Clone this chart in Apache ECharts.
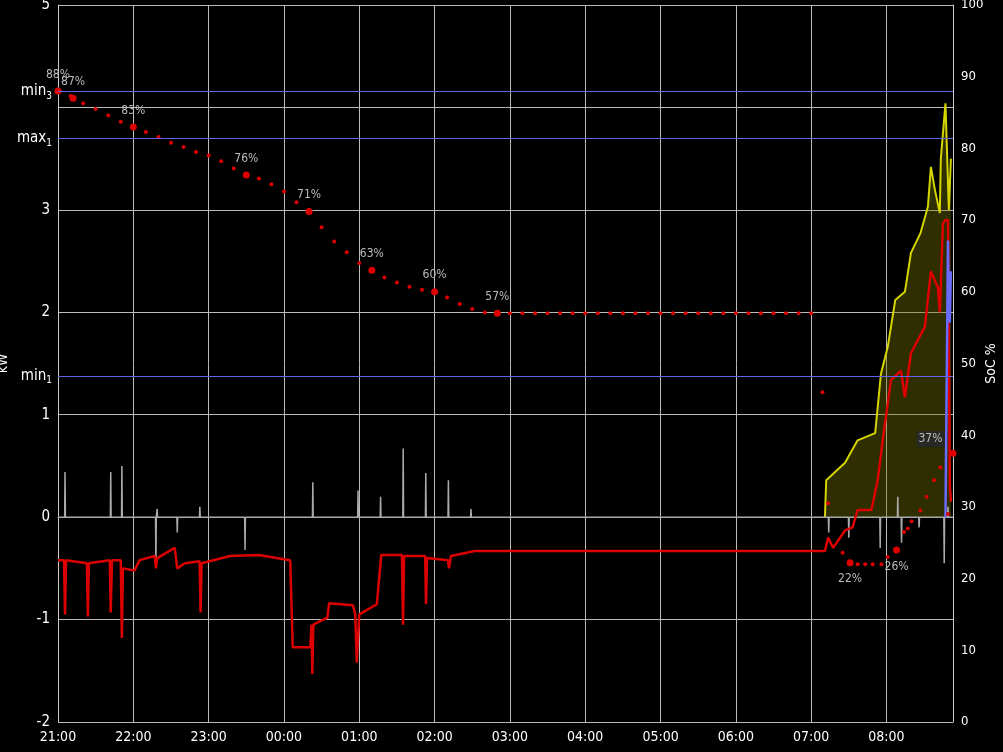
<!DOCTYPE html>
<html>
<head>
<meta charset="UTF-8">
<script src="https://cdn.jsdelivr.net/npm/echarts@6/dist/echarts.min.js"></script>
</head>
<body style="margin:0;background:#000;">
<div id="container" style="width:1003px;height:752px;"></div>
<script>
// x values are minutes after 21:00
var xTicks = ['21:00','22:00','23:00','00:00','01:00','02:00','03:00','04:00','05:00','06:00','07:00','08:00'];

// house/grid power, kW
var gridSpikes = [[5.6,0.44],[42,0.44],[50.9,0.5],[78,-0.49],[79,0.08],[95,-0.15],[113,0.1],[149,-0.32],[203,0.34],[239,0.26],[257,0.2],[275,0.67],[293,0.43],[311,0.36],[329,0.08],
  [614,-0.15],[630,-0.2],[655,-0.3],[669,0.2],[672,-0.25],[686,-0.1],[706,-0.45],[709,0.1]];

var batteryPower = [[0,-0.42],[4.8,-0.42],[5.6,-0.95],[6.4,-0.42],[23,-0.45],[23.8,-0.97],[24.6,-0.45],[41.3,-0.42],[42,-0.93],[43,-0.42],
  [50,-0.42],[50.9,-1.18],[51.7,-0.5],[61,-0.52],[65,-0.42],[77,-0.38],[78,-0.5],[79,-0.4],[93,-0.3],[95,-0.5],[101,-0.45],
  [112.8,-0.43],[113.6,-0.93],[114.4,-0.45],[137,-0.38],[160,-0.37],[185,-0.42],[187,-1.27],[201,-1.27],[202,-1.05],[202.6,-1.53],[203.4,-1.05],
  [214.6,-0.98],[216,-0.84],[235,-0.86],[236.8,-0.95],[238,-1.42],[240,-0.95],[254,-0.85],[257.5,-0.37],[274,-0.37],[274.9,-1.05],[275.7,-0.38],
  [292.5,-0.38],[293.2,-0.85],[294,-0.4],[310.7,-0.42],[311.5,-0.5],[313,-0.38],[332,-0.33],[611,-0.33],[613.5,-0.2],[617.5,-0.3],[627,-0.13],
  [633,-0.1],[637,0.07],[648,0.07],[653,0.36],[657,0.75],[663.6,1.34],[671.5,1.43],[674.7,1.17],[679.5,1.6],[690.6,1.86],[695.4,2.4],
  [701,2.24],[702.5,2.0],[705,2.87],[707,2.9],[709,2.9],[710.5,0.3],[711.3,0.15]];

var solarPower = [[611,0],[612,0.36],[627,0.53],[637,0.75],[651,0.82],[655.6,1.4],[661,1.66],[667,2.12],[674.7,2.2],[679.5,2.58],
  [687,2.77],[693,3.03],[695.4,3.42],[698.5,3.2],[702.5,2.97],[703.3,3.5],[707,4.04],[709.7,3.0],[711.3,3.5]];

var loadPower = [[707,0],[709,2.7],[709.7,2.0],[710.5,1.9],[711.3,2.4]];

// state of charge, %
var socTimes = [0,10,20,30,40,50,60,70,80,90,100,110,120,130,140,150,160,170,180,190,200,210,220,230,240,250,260,270,280,290,300,
  310,320,330,340,350,360,370,380,390,400,410,420,430,440,450,460,470,480,490,500,510,520,530,540,550,560,570,580,590,600,
  609,613.5,625,631,637,643,649,656,661,668,674,677,680,687,692,698,703,709,713];
var socValues = [88,87.3,86.3,85.5,84.6,83.7,83,82.3,81.6,80.8,80.2,79.5,79,78.2,77.2,76.3,75.8,75,74,72.5,71.2,69,67,65.5,64,63,62,61.3,60.7,60.3,60,
  59.2,58.3,57.6,57.1,57,57,57,57,57,57,57,57,57,57,57,57,57,57,57,57,57,57,57,57,57,57,57,57,57,57,
  46,30.5,23.6,22.2,22,22,22,22,23,24,26.5,27,28,29.5,31.4,33.7,35.5,29,37.5];
var socLabels = {0:'88%',12:'87%',60:'83%',105:'80%',150:'76%',200:'71%',250:'63%',300:'60%',350:'57%',631:'22%',668:'26%',713:'37%'};

var limits = [['min','3',4.16],['max','1',3.70],['min','1',1.38]];

var gridData = [[0,0]];
gridSpikes.forEach(function (s) { gridData.push([s[0]-0.3,0],[s[0],s[1]],[s[0]+0.3,0]); });
gridData.push([713,0]);

var socData = socTimes.map(function (t, i) { return [t, socValues[i]]; });
Object.keys(socLabels).forEach(function (k) {
  var t = +k;
  var idx = socTimes.indexOf(t);
  var item = {value: [t, idx >= 0 ? socValues[idx] : (t === 12 ? 87 : 0)], symbolSize: 7,
    label: {show: true, formatter: socLabels[k], position: t >= 600 ? 'bottom' : 'top', color: '#bbb', fontSize: 12,
      backgroundColor: t === 713 ? 'rgba(40,40,40,0.9)' : 'transparent', padding: 2}};
  if (t === 713) { item.label.position = 'left'; item.label.offset = [0, -14]; }
  if (idx >= 0) socData[idx] = item; else if (t === 12) socData.push(item);
});
socData.sort(function (a, b) { return (a.value || a)[0] - (b.value || b)[0]; });

var font = 'DejaVu Sans Condensed, DejaVu Sans, sans-serif';
var chart = echarts.init(document.getElementById('container'));
chart.setOption({
  backgroundColor: '#000',
  animation: false,
  textStyle: {fontFamily: font},
  grid: {left: 58, right: 50, top: 5, bottom: 30, outerBoundsMode: 'none', containLabel: false},
  xAxis: {type: 'value', min: 0, max: 713, interval: 60,
    axisLine: {lineStyle: {color: '#ccc'}}, axisTick: {show: false},
    splitLine: {lineStyle: {color: '#bbb', width: 1}},
    axisLabel: {color: '#fff', fontSize: 14, fontFamily: font, formatter: function (v) { return xTicks[v / 60] || ''; }}},
  yAxis: [
    {type: 'value', min: -2, max: 5, interval: 1, name: 'kW', nameLocation: 'middle', nameGap: 48, nameMoveOverlap: false,
      nameTextStyle: {color: '#fff', fontSize: 14, fontFamily: font},
      axisLine: {show: true, lineStyle: {color: '#ccc'}}, axisTick: {show: false},
      splitLine: {lineStyle: {color: '#bbb'}},
      axisLabel: {color: '#fff', fontSize: 15, fontFamily: font, formatter: function (v) { return v === 4 ? '' : v; }}},
    {type: 'value', min: 0, max: 100, interval: 10, name: 'SoC %', nameLocation: 'middle', nameGap: 38, nameRotate: 90, nameMoveOverlap: false,
      nameTextStyle: {color: '#fff', fontSize: 14, fontFamily: font, verticalAlign: 'middle', align: 'center'},
      axisLine: {show: true, lineStyle: {color: '#ccc'}}, axisTick: {show: false}, splitLine: {show: false},
      axisLabel: {color: '#fff', fontSize: 13, fontFamily: font}}
  ],
  series: [
    {type: 'line', name: 'solar', data: solarPower, showSymbol: false, z: 2,
      lineStyle: {color: '#d4d400', width: 2}, areaStyle: {color: 'rgba(120,120,0,0.55)'}},
    {type: 'line', name: 'grid', data: gridData, showSymbol: false, z: 3,
      lineStyle: {color: '#aaa', width: 1.5},
      markLine: {silent: true, symbol: 'none', z: 10, lineStyle: {color: '#6464e8', type: 'solid', width: 1.2, opacity: 1},
        data: limits.map(function (l) {
          return {yAxis: l[2], label: {position: 'start', distance: 6, formatter: '{n|' + l[0] + '}{s|' + l[1] + '}',
            rich: {n: {color: '#fff', fontSize: 15, fontFamily: font}, s: {color: '#fff', fontSize: 10, fontFamily: font, padding: [10, 0, 0, 0]}}}};
        })}},
    {type: 'line', name: 'battery', data: batteryPower, showSymbol: false, z: 4,
      lineStyle: {color: '#dd0000', width: 2.5}},
    {type: 'line', name: 'load', data: loadPower, showSymbol: false, z: 4,
      lineStyle: {color: '#6a6aff', width: 2.5}},
    {type: 'line', name: 'soc', yAxisIndex: 1, data: socData, showSymbol: true, symbol: 'circle', symbolSize: 4, z: 5,
      itemStyle: {color: '#dd0000'}, lineStyle: {opacity: 0}}
  ]
});
</script>
</body>
</html>
